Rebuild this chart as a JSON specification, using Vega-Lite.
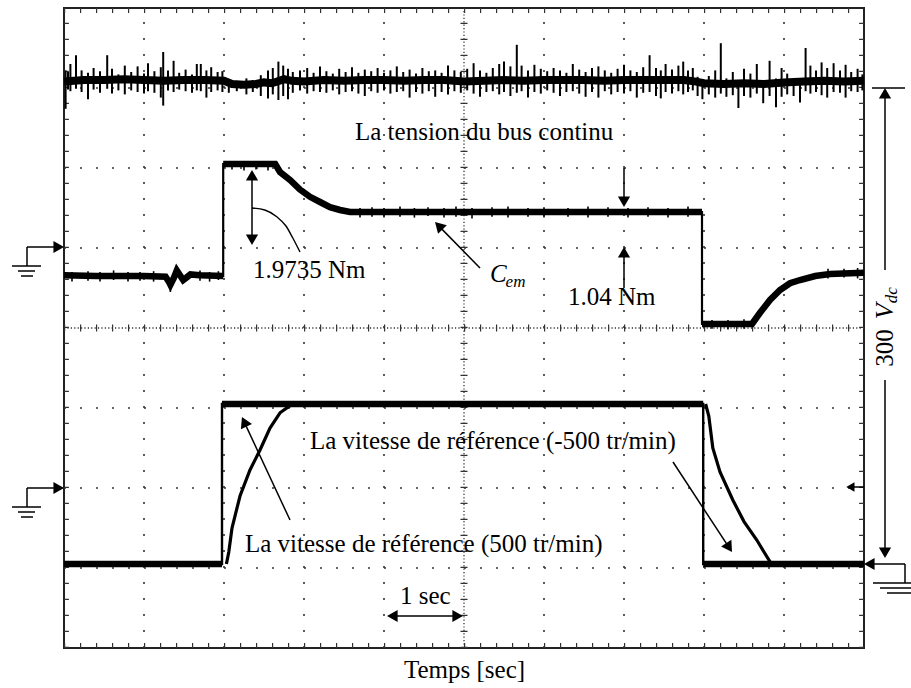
{
  "$schema": "https://vega.github.io/schema/vega-lite/v6.json",
  "width": 800,
  "height": 640,
  "autosize": {"type": "none"},
  "padding": {"left": 64, "top": 8, "right": 47, "bottom": 40},
  "background": "white",
  "config": {"view": {"stroke": "#222", "strokeWidth": 2}},
  "datasets": {
    "gridV": [{"x":1,"y":0,"y2":8},{"x":2,"y":0,"y2":8},{"x":3,"y":0,"y2":8},{"x":4,"y":0,"y2":8},{"x":6,"y":0,"y2":8},{"x":7,"y":0,"y2":8},{"x":8,"y":0,"y2":8},{"x":9,"y":0,"y2":8}],
    "gridH": [{"x":0,"x2":10,"y":1},{"x":0,"x2":10,"y":2},{"x":0,"x2":10,"y":3},{"x":0,"x2":10,"y":5},{"x":0,"x2":10,"y":6},{"x":0,"x2":10,"y":7}],
    "centerV": [{"x":5,"y":0,"y2":8}],
    "centerH": [{"x":0,"x2":10,"y":4}],
    "borderV": [{"x":0.03,"y":0,"y2":8},{"x":9.97,"y":0,"y2":8}],
    "borderH": [{"x":0,"x2":10,"y":0.03},{"x":0,"x2":10,"y":7.97}],
    "bus": [{"x":0,"y":7.08},{"x":0.25,"y":7.1},{"x":0.5,"y":7.1},{"x":0.75,"y":7.11},{"x":1.0,"y":7.1},{"x":1.25,"y":7.09},{"x":1.5,"y":7.1},{"x":1.75,"y":7.1},{"x":2.0,"y":7.09},{"x":2.1,"y":7.05},{"x":2.25,"y":7.04},{"x":2.4,"y":7.05},{"x":2.5,"y":7.07},{"x":2.6,"y":7.06},{"x":2.75,"y":7.11},{"x":2.85,"y":7.09},{"x":3.0,"y":7.08},{"x":3.25,"y":7.1},{"x":3.5,"y":7.09},{"x":3.75,"y":7.1},{"x":4.0,"y":7.1},{"x":4.25,"y":7.09},{"x":4.5,"y":7.1},{"x":4.75,"y":7.1},{"x":5.0,"y":7.08},{"x":5.25,"y":7.09},{"x":5.5,"y":7.1},{"x":5.75,"y":7.09},{"x":6.0,"y":7.1},{"x":6.25,"y":7.1},{"x":6.5,"y":7.1},{"x":6.75,"y":7.09},{"x":7.0,"y":7.1},{"x":7.25,"y":7.1},{"x":7.5,"y":7.1},{"x":7.75,"y":7.1},{"x":7.9,"y":7.08},{"x":8.0,"y":7.06},{"x":8.25,"y":7.05},{"x":8.5,"y":7.06},{"x":8.75,"y":7.05},{"x":9.0,"y":7.07},{"x":9.25,"y":7.08},{"x":9.5,"y":7.09},{"x":9.75,"y":7.08},{"x":10.0,"y":7.09}],
    "busSpikes": [{"x":0.02,"y":6.74,"y2":7.22},{"x":0.05,"y":6.98,"y2":7.2},{"x":0.08,"y":6.96,"y2":7.3},{"x":0.15,"y":6.99,"y2":7.41},{"x":0.22,"y":6.95,"y2":7.22},{"x":0.3,"y":6.86,"y2":7.19},{"x":0.37,"y":6.98,"y2":7.25},{"x":0.45,"y":6.94,"y2":7.21},{"x":0.54,"y":6.99,"y2":7.41},{"x":0.6,"y":6.93,"y2":7.24},{"x":0.68,"y":6.97,"y2":7.17},{"x":0.76,"y":6.92,"y2":7.28},{"x":0.84,"y":6.97,"y2":7.2},{"x":0.92,"y":6.95,"y2":7.27},{"x":1.0,"y":6.93,"y2":7.18},{"x":1.05,"y":6.96,"y2":7.31},{"x":1.13,"y":6.94,"y2":7.21},{"x":1.21,"y":6.88,"y2":7.26},{"x":1.24,"y":6.78,"y2":7.45},{"x":1.3,"y":6.97,"y2":7.22},{"x":1.37,"y":6.95,"y2":7.34},{"x":1.44,"y":6.98,"y2":7.19},{"x":1.52,"y":6.96,"y2":7.23},{"x":1.6,"y":6.94,"y2":7.17},{"x":1.66,"y":6.97,"y2":7.3},{"x":1.71,"y":6.96,"y2":7.3},{"x":1.78,"y":6.88,"y2":7.22},{"x":1.84,"y":6.95,"y2":7.26},{"x":1.92,"y":6.97,"y2":7.2},{"x":1.98,"y":6.95,"y2":7.21},{"x":2.06,"y":6.94,"y2":7.1},{"x":2.16,"y":6.96,"y2":7.08},{"x":2.28,"y":6.92,"y2":7.12},{"x":2.36,"y":6.95,"y2":7.1},{"x":2.46,"y":6.9,"y2":7.16},{"x":2.55,"y":6.87,"y2":7.22},{"x":2.61,"y":6.92,"y2":7.25},{"x":2.68,"y":6.85,"y2":7.33},{"x":2.74,"y":6.9,"y2":7.28},{"x":2.8,"y":6.86,"y2":7.24},{"x":2.86,"y":6.94,"y2":7.2},{"x":2.95,"y":6.97,"y2":7.22},{"x":3.04,"y":6.93,"y2":7.25},{"x":3.12,"y":6.96,"y2":7.19},{"x":3.2,"y":6.95,"y2":7.27},{"x":3.28,"y":6.94,"y2":7.21},{"x":3.36,"y":6.97,"y2":7.18},{"x":3.44,"y":6.92,"y2":7.24},{"x":3.52,"y":6.95,"y2":7.2},{"x":3.6,"y":6.96,"y2":7.26},{"x":3.68,"y":6.93,"y2":7.19},{"x":3.76,"y":6.9,"y2":7.23},{"x":3.84,"y":6.96,"y2":7.21},{"x":3.92,"y":6.94,"y2":7.25},{"x":4.0,"y":6.97,"y2":7.19},{"x":4.08,"y":6.93,"y2":7.22},{"x":4.16,"y":6.95,"y2":7.27},{"x":4.24,"y":6.96,"y2":7.2},{"x":4.32,"y":6.88,"y2":7.23},{"x":4.4,"y":6.95,"y2":7.18},{"x":4.48,"y":6.93,"y2":7.25},{"x":4.56,"y":6.96,"y2":7.21},{"x":4.64,"y":6.89,"y2":7.22},{"x":4.72,"y":6.95,"y2":7.19},{"x":4.8,"y":6.92,"y2":7.28},{"x":4.88,"y":6.96,"y2":7.22},{"x":4.96,"y":6.94,"y2":7.2},{"x":5.04,"y":6.97,"y2":7.24},{"x":5.12,"y":6.93,"y2":7.31},{"x":5.2,"y":6.89,"y2":7.22},{"x":5.28,"y":6.95,"y2":7.19},{"x":5.36,"y":6.96,"y2":7.25},{"x":5.44,"y":6.92,"y2":7.3},{"x":5.5,"y":6.95,"y2":7.33},{"x":5.58,"y":6.9,"y2":7.27},{"x":5.66,"y":6.94,"y2":7.54},{"x":5.72,"y":6.96,"y2":7.28},{"x":5.8,"y":6.88,"y2":7.22},{"x":5.88,"y":6.95,"y2":7.29},{"x":5.96,"y":6.93,"y2":7.24},{"x":6.04,"y":6.97,"y2":7.21},{"x":6.12,"y":6.94,"y2":7.25},{"x":6.2,"y":6.9,"y2":7.22},{"x":6.28,"y":6.95,"y2":7.19},{"x":6.36,"y":6.96,"y2":7.3},{"x":6.44,"y":6.93,"y2":7.23},{"x":6.52,"y":6.89,"y2":7.2},{"x":6.6,"y":6.95,"y2":7.25},{"x":6.68,"y":6.88,"y2":7.27},{"x":6.76,"y":6.96,"y2":7.22},{"x":6.84,"y":6.92,"y2":7.19},{"x":6.92,"y":6.95,"y2":7.24},{"x":7.0,"y":6.93,"y2":7.29},{"x":7.08,"y":6.96,"y2":7.22},{"x":7.16,"y":6.88,"y2":7.2},{"x":7.24,"y":6.94,"y2":7.26},{"x":7.32,"y":6.95,"y2":7.41},{"x":7.4,"y":6.9,"y2":7.25},{"x":7.46,"y":6.87,"y2":7.22},{"x":7.52,"y":6.95,"y2":7.3},{"x":7.6,"y":6.93,"y2":7.23},{"x":7.68,"y":6.96,"y2":7.28},{"x":7.74,"y":6.92,"y2":7.33},{"x":7.8,"y":6.95,"y2":7.22},{"x":7.86,"y":6.97,"y2":7.25},{"x":7.92,"y":6.9,"y2":7.14},{"x":7.98,"y":6.86,"y2":7.1},{"x":8.06,"y":6.92,"y2":7.15},{"x":8.14,"y":6.88,"y2":7.22},{"x":8.21,"y":6.93,"y2":7.56},{"x":8.28,"y":6.89,"y2":7.12},{"x":8.36,"y":6.91,"y2":7.2},{"x":8.43,"y":6.75,"y2":7.1},{"x":8.5,"y":6.9,"y2":7.24},{"x":8.58,"y":6.88,"y2":7.18},{"x":8.66,"y":6.93,"y2":7.3},{"x":8.74,"y":6.81,"y2":7.1},{"x":8.82,"y":6.9,"y2":7.34},{"x":8.9,"y":6.76,"y2":7.12},{"x":8.97,"y":6.89,"y2":7.25},{"x":9.04,"y":6.92,"y2":7.18},{"x":9.12,"y":6.9,"y2":7.1},{"x":9.2,"y":6.82,"y2":7.12},{"x":9.27,"y":6.96,"y2":7.5},{"x":9.33,"y":6.93,"y2":7.28},{"x":9.4,"y":6.95,"y2":7.22},{"x":9.47,"y":6.91,"y2":7.32},{"x":9.54,"y":6.88,"y2":7.25},{"x":9.62,"y":6.95,"y2":7.31},{"x":9.7,"y":6.94,"y2":7.22},{"x":9.77,"y":6.88,"y2":7.29},{"x":9.84,"y":6.96,"y2":7.2},{"x":9.92,"y":6.95,"y2":7.24},{"x":9.98,"y":6.97,"y2":7.17}],
    "torque": [{"x":0,"y":4.66,"s":"a"},{"x":0.4,"y":4.65,"s":"a"},{"x":1.0,"y":4.65,"s":"a"},{"x":1.27,"y":4.64,"s":"a"},{"x":1.31,"y":4.58,"s":"a"},{"x":1.33,"y":4.54,"s":"a"},{"x":1.37,"y":4.62,"s":"a"},{"x":1.41,"y":4.72,"s":"a"},{"x":1.45,"y":4.66,"s":"a"},{"x":1.49,"y":4.6,"s":"a"},{"x":1.53,"y":4.63,"s":"a"},{"x":1.58,"y":4.67,"s":"a"},{"x":1.7,"y":4.66,"s":"a"},{"x":1.99,"y":4.65,"s":"a"},{"x":1.99,"y":6.05,"s":"b"},{"x":2.3,"y":6.05,"s":"b"},{"x":2.64,"y":6.05,"s":"b"},{"x":2.7,"y":5.95,"s":"b"},{"x":2.825,"y":5.85,"s":"b"},{"x":2.95,"y":5.73,"s":"b"},{"x":3.075,"y":5.64,"s":"b"},{"x":3.2,"y":5.575,"s":"b"},{"x":3.325,"y":5.51,"s":"b"},{"x":3.45,"y":5.475,"s":"b"},{"x":3.575,"y":5.45,"s":"b"},{"x":5,"y":5.45,"s":"b"},{"x":7.975,"y":5.45,"s":"b"},{"x":7.975,"y":4.05,"s":"c"},{"x":8.6,"y":4.05,"s":"c"},{"x":8.7,"y":4.19,"s":"c"},{"x":8.825,"y":4.35,"s":"c"},{"x":8.95,"y":4.475,"s":"c"},{"x":9.075,"y":4.56,"s":"c"},{"x":9.2,"y":4.6,"s":"c"},{"x":9.39,"y":4.65,"s":"c"},{"x":9.575,"y":4.675,"s":"c"},{"x":10,"y":4.69,"s":"c"}],
    "torqueSpikes": [{"x":0.1,"y":4.58,"y2":4.7},{"x":0.3,"y":4.59,"y2":4.71},{"x":0.45,"y":4.58,"y2":4.7},{"x":0.62,"y":4.6,"y2":4.72},{"x":0.8,"y":4.58,"y2":4.7},{"x":0.95,"y":4.59,"y2":4.7},{"x":1.12,"y":4.58,"y2":4.71},{"x":1.33,"y":4.45,"y2":4.6},{"x":1.41,"y":4.66,"y2":4.77},{"x":1.7,"y":4.59,"y2":4.72},{"x":1.82,"y":4.58,"y2":4.7},{"x":1.93,"y":4.6,"y2":4.71},{"x":2.1,"y":5.98,"y2":6.08},{"x":2.25,"y":5.97,"y2":6.08},{"x":2.4,"y":5.98,"y2":6.08},{"x":2.55,"y":5.97,"y2":6.08},{"x":3.7,"y":5.38,"y2":5.5},{"x":3.85,"y":5.39,"y2":5.51},{"x":4.0,"y":5.38,"y2":5.5},{"x":4.2,"y":5.39,"y2":5.52},{"x":4.38,"y":5.38,"y2":5.5},{"x":4.55,"y":5.4,"y2":5.51},{"x":4.75,"y":5.38,"y2":5.5},{"x":4.9,"y":5.39,"y2":5.52},{"x":5.1,"y":5.37,"y2":5.5},{"x":5.35,"y":5.39,"y2":5.51},{"x":5.55,"y":5.38,"y2":5.52},{"x":5.8,"y":5.39,"y2":5.5},{"x":6.0,"y":5.38,"y2":5.51},{"x":6.3,"y":5.39,"y2":5.5},{"x":6.55,"y":5.38,"y2":5.52},{"x":6.8,"y":5.39,"y2":5.51},{"x":7.05,"y":5.38,"y2":5.5},{"x":7.3,"y":5.39,"y2":5.51},{"x":7.55,"y":5.38,"y2":5.5},{"x":7.8,"y":5.39,"y2":5.52},{"x":8.1,"y":3.99,"y2":4.1},{"x":8.3,"y":3.98,"y2":4.1},{"x":8.5,"y":3.99,"y2":4.11},{"x":9.55,"y":4.62,"y2":4.74},{"x":9.75,"y":4.63,"y2":4.74},{"x":9.92,"y":4.62,"y2":4.75}],
    "speedRef": [{"x":0,"y":1.05,"s":"a"},{"x":1.975,"y":1.05,"s":"a"},{"x":1.975,"y":3.05,"s":"b"},{"x":7.99,"y":3.05,"s":"b"},{"x":7.99,"y":1.05,"s":"c"},{"x":10,"y":1.05,"s":"c"}],
    "speedMeas": [{"x":2.03,"y":1.05,"s":"r"},{"x":2.06,"y":1.2,"s":"r"},{"x":2.1,"y":1.5,"s":"r"},{"x":2.2,"y":1.9,"s":"r"},{"x":2.325,"y":2.225,"s":"r"},{"x":2.45,"y":2.475,"s":"r"},{"x":2.575,"y":2.75,"s":"r"},{"x":2.7,"y":2.94,"s":"r"},{"x":2.825,"y":3.03,"s":"r"},{"x":2.95,"y":3.05,"s":"r"},{"x":8.02,"y":3.05,"s":"f"},{"x":8.06,"y":2.9,"s":"f"},{"x":8.11,"y":2.5,"s":"f"},{"x":8.2,"y":2.2,"s":"f"},{"x":8.36,"y":1.85,"s":"f"},{"x":8.5,"y":1.58,"s":"f"},{"x":8.66,"y":1.35,"s":"f"},{"x":8.75,"y":1.2,"s":"f"},{"x":8.83,"y":1.07,"s":"f"},{"x":8.9,"y":1.05,"s":"f"}],
    "arrows": [{"x":2.35,"y":5.93,"x2":2.35,"y2":5.08},{"x":7.0,"y":6.0,"x2":7.0,"y2":5.6},{"x":7.0,"y":4.93,"x2":7.0,"y2":4.5},{"x":5.2,"y":4.75,"x2":4.69,"y2":5.27},{"x":2.825,"y":1.6,"x2":2.255,"y2":2.82},{"x":7.6125,"y":2.325,"x2":8.31,"y2":1.26},{"x":4.1,"y":0.4,"x2":4.92,"y2":0.4},{"x":-0.4625,"y":5.0125,"x2":-0.07,"y2":5.0125},{"x":-0.4625,"y":5.0125,"x2":-0.4625,"y2":4.775},{"x":-0.65,"y":4.775,"x2":-0.2875,"y2":4.775},{"x":-0.575,"y":4.7125,"x2":-0.3625,"y2":4.7125},{"x":-0.5375,"y":4.65,"x2":-0.3875,"y2":4.65},{"x":-0.4625,"y":2.0,"x2":-0.07,"y2":2.0},{"x":-0.4625,"y":2.0,"x2":-0.4625,"y2":1.7625},{"x":-0.65,"y":1.7625,"x2":-0.2875,"y2":1.7625},{"x":-0.575,"y":1.7,"x2":-0.3625,"y2":1.7},{"x":-0.5375,"y":1.6375,"x2":-0.3875,"y2":1.6375},{"x":10.1,"y":7.0,"x2":10.5125,"y2":7.0},{"x":10.2625,"y":6.93,"x2":10.2625,"y2":4.725},{"x":10.2625,"y":3.35,"x2":10.2625,"y2":1.2},{"x":10.07,"y":1.05,"x2":10.5125,"y2":1.05},{"x":10.5125,"y":1.05,"x2":10.5125,"y2":0.8125},{"x":10.1125,"y":0.8125,"x2":10.9,"y2":0.8125},{"x":10.2,"y":0.75,"x2":10.825,"y2":0.75},{"x":10.2875,"y":0.6875,"x2":10.7375,"y2":0.6875},{"x":9.83,"y":2.0125,"x2":10.0,"y2":2.0125}],
    "arc": [{"x":2.35,"y":5.5},{"x":2.51,"y":5.475},{"x":2.66,"y":5.39},{"x":2.775,"y":5.275},{"x":2.86,"y":5.125},{"x":2.95,"y":4.95}],
    "headsUp": [{"x":2.35,"y":5.91},{"x":7.0,"y":4.946},{"x":10.2625,"y":6.934}],
    "headsDown": [{"x":2.35,"y":5.104},{"x":7.0,"y":5.579},{"x":10.2625,"y":1.191}],
    "headsLeft": [{"x":4.104,"y":0.4},{"x":10.066,"y":1.05}],
    "headsRight": [{"x":4.921,"y":0.4},{"x":-0.066,"y":5.0125},{"x":-0.066,"y":2.0}],
    "headCem": [{"x":4.684,"y":5.278}],
    "head500": [{"x":2.2525,"y":2.8275}],
    "headNeg500": [{"x":8.314,"y":1.255}],
    "headSmall": [{"x":9.83,"y":2.0125}],
    "labels": [{"x":3.6375,"y":6.35,"label":"La tension du bus continu"},{"x":2.3625,"y":4.625,"label":"1.9735 Nm"},{"x":6.3,"y":4.2875,"label":"1.04 Nm"},{"x":3.075,"y":2.4875,"label":"La vitesse de référence (-500 tr/min)"},{"x":2.2625,"y":1.2,"label":"La vitesse de référence (500 tr/min)"},{"x":4.2,"y":0.55,"label":"1 sec"}],
    "labC": [{"x":5.325,"y":4.575,"label":"C"}],
    "labEm": [{"x":5.52,"y":4.5125,"label":"em"}],
    "lab300": [{"x":10.2625,"y":3.75,"label":"300"}],
    "labV": [{"x":10.2625,"y":4.21,"label":"V"}],
    "labDc": [{"x":10.345,"y":4.41,"label":"dc"}]
  },
  "encoding": {
    "x": {"field": "x", "type": "quantitative", "scale": {"domain": [0, 10], "nice": false, "zero": false},
          "axis": {"title": "Temps [sec]", "labels": false, "ticks": false, "domain": false, "grid": false,
                   "titleFont": "Liberation Serif", "titleFontSize": 25, "titleFontWeight": "normal", "titleColor": "#000", "titlePadding": 9}},
    "y": {"field": "y", "type": "quantitative", "scale": {"domain": [0, 8], "nice": false, "zero": false}, "axis": null}
  },
  "layer": [
    {"data": {"name": "gridV"}, "mark": {"type": "rule", "color": "#333", "strokeWidth": 1.6, "strokeDash": [2, 14]}, "encoding": {"y2": {"field": "y2"}}},
    {"data": {"name": "gridH"}, "mark": {"type": "rule", "color": "#333", "strokeWidth": 1.6, "strokeDash": [2, 14]}, "encoding": {"x2": {"field": "x2"}}},
    {"data": {"name": "centerV"}, "mark": {"type": "rule", "color": "#333", "strokeWidth": 1.3, "strokeDash": [1.2, 2.2]}, "encoding": {"y2": {"field": "y2"}}},
    {"data": {"name": "centerV"}, "mark": {"type": "rule", "color": "#333", "strokeWidth": 7, "strokeDash": [1.2, 14.8]}, "encoding": {"y2": {"field": "y2"}}},
    {"data": {"name": "centerH"}, "mark": {"type": "rule", "color": "#333", "strokeWidth": 1.3, "strokeDash": [1.2, 2.2]}, "encoding": {"x2": {"field": "x2"}}},
    {"data": {"name": "centerH"}, "mark": {"type": "rule", "color": "#333", "strokeWidth": 7, "strokeDash": [1.2, 14.8]}, "encoding": {"x2": {"field": "x2"}}},
    {"data": {"name": "borderV"}, "mark": {"type": "rule", "color": "#333", "strokeWidth": 5, "strokeDash": [1.2, 14.8]}, "encoding": {"y2": {"field": "y2"}}},
    {"data": {"name": "borderH"}, "mark": {"type": "rule", "color": "#333", "strokeWidth": 5, "strokeDash": [1.2, 14.8]}, "encoding": {"x2": {"field": "x2"}}},
    {"data": {"name": "bus"}, "mark": {"type": "line", "color": "#000", "strokeWidth": 8}, "encoding": {}},
    {"data": {"name": "busSpikes"}, "mark": {"type": "rule", "color": "#000", "strokeWidth": 2}, "encoding": {"y2": {"field": "y2"}}},
    {"data": {"name": "torque"}, "mark": {"type": "line", "color": "#000", "strokeWidth": 2.2}, "encoding": {"order": {"value": null}}},
    {"data": {"name": "torque"}, "mark": {"type": "line", "color": "#000", "strokeWidth": 6.5}, "encoding": {"detail": {"field": "s"}}},
    {"data": {"name": "torqueSpikes"}, "mark": {"type": "rule", "color": "#000", "strokeWidth": 1.6}, "encoding": {"y2": {"field": "y2"}}},
    {"data": {"name": "speedRef"}, "mark": {"type": "line", "color": "#000", "strokeWidth": 2.4}, "encoding": {"order": {"value": null}}},
    {"data": {"name": "speedRef"}, "mark": {"type": "line", "color": "#000", "strokeWidth": 6.5}, "encoding": {"detail": {"field": "s"}}},
    {"data": {"name": "speedMeas"}, "mark": {"type": "line", "color": "#000", "strokeWidth": 3.2}, "encoding": {"detail": {"field": "s"}}},
    {"data": {"name": "arrows"}, "mark": {"type": "rule", "color": "#000", "strokeWidth": 1.5}, "encoding": {"x2": {"field": "x2"}, "y2": {"field": "y2"}}},
    {"data": {"name": "arc"}, "mark": {"type": "line", "color": "#000", "strokeWidth": 1.4, "interpolate": "monotone"}, "encoding": {}},
    {"data": {"name": "headsUp"}, "mark": {"type": "point", "shape": "triangle-up", "filled": true, "color": "#000", "opacity": 1, "size": 150}, "encoding": {}},
    {"data": {"name": "headsDown"}, "mark": {"type": "point", "shape": "triangle-down", "filled": true, "color": "#000", "opacity": 1, "size": 150}, "encoding": {}},
    {"data": {"name": "headsLeft"}, "mark": {"type": "point", "shape": "triangle-left", "filled": true, "color": "#000", "opacity": 1, "size": 150}, "encoding": {}},
    {"data": {"name": "headsRight"}, "mark": {"type": "point", "shape": "triangle-right", "filled": true, "color": "#000", "opacity": 1, "size": 150}, "encoding": {}},
    {"data": {"name": "headCem"}, "mark": {"type": "point", "shape": "triangle-up", "angle": 315.6, "filled": true, "color": "#000", "opacity": 1, "size": 150}, "encoding": {}},
    {"data": {"name": "head500"}, "mark": {"type": "point", "shape": "triangle-up", "angle": 335, "filled": true, "color": "#000", "opacity": 1, "size": 150}, "encoding": {}},
    {"data": {"name": "headNeg500"}, "mark": {"type": "point", "shape": "triangle-up", "angle": 147, "filled": true, "color": "#000", "opacity": 1, "size": 150}, "encoding": {}},
    {"data": {"name": "headSmall"}, "mark": {"type": "point", "shape": "triangle-left", "filled": true, "color": "#000", "opacity": 1, "size": 90}, "encoding": {}},
    {"data": {"name": "labels"}, "mark": {"type": "text", "font": "Liberation Serif", "fontSize": 25, "align": "left", "baseline": "alphabetic", "color": "#000"}, "encoding": {"text": {"field": "label"}}},
    {"data": {"name": "labC"}, "mark": {"type": "text", "font": "Liberation Serif", "fontSize": 25, "fontStyle": "italic", "align": "left", "baseline": "alphabetic", "color": "#000"}, "encoding": {"text": {"field": "label"}}},
    {"data": {"name": "labEm"}, "mark": {"type": "text", "font": "Liberation Serif", "fontSize": 17, "fontStyle": "italic", "align": "left", "baseline": "alphabetic", "color": "#000"}, "encoding": {"text": {"field": "label"}}},
    {"data": {"name": "lab300"}, "mark": {"type": "text", "font": "Liberation Serif", "fontSize": 25, "angle": 270, "align": "center", "baseline": "middle", "color": "#000"}, "encoding": {"text": {"field": "label"}}},
    {"data": {"name": "labV"}, "mark": {"type": "text", "font": "Liberation Serif", "fontSize": 26, "fontStyle": "italic", "angle": 270, "align": "center", "baseline": "middle", "color": "#000"}, "encoding": {"text": {"field": "label"}}},
    {"data": {"name": "labDc"}, "mark": {"type": "text", "font": "Liberation Serif", "fontSize": 17, "fontStyle": "italic", "angle": 270, "align": "center", "baseline": "middle", "color": "#000"}, "encoding": {"text": {"field": "label"}}}
  ]
}
